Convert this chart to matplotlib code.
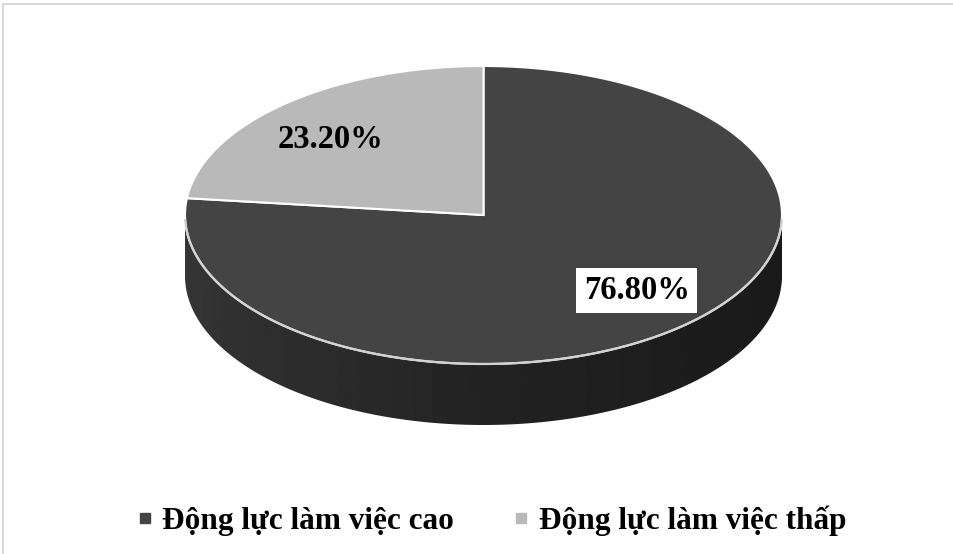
import numpy as np
import matplotlib.pyplot as plt
from matplotlib.patches import Polygon
from matplotlib.lines import Line2D

# dữ liệu
labels = ["Động lực làm việc cao", "Động lực làm việc thấp"]
values = [76.8, 23.2]
colors = ["#444444", "#b9b9b9"]

plt.rcParams["font.family"] = ["Liberation Serif", "DejaVu Serif"]

W, H = 954, 554
fig = plt.figure(figsize=(W / 100, H / 100), dpi=100)
ax = fig.add_axes([0, 0, 1, 1])

# hình elip của mặt trên và độ dày của bánh
cx, cy = 483.5, 215
a, b = 298.5, 149
depth = 61


def pt(t, dy=0.0):
    # t tính theo độ, chiều kim đồng hồ từ 12 giờ
    r = np.radians(t)
    return cx + a * np.sin(r), cy - b * np.cos(r) + dy


# khung viền (chỉ cạnh trên và cạnh trái)
ax.plot([3, W], [4, 4], color="#d9d9d9", lw=1.5)
ax.plot([3, 3], [4, H], color="#d9d9d9", lw=1.5)

# thành bên (nửa trước), tô chuyển màu theo chiều ngang
t = np.linspace(90, 270, 300)
xt, yt = pt(t)
xb, yb = pt(t[::-1], depth)
wall = Polygon(np.column_stack([np.r_[xt, xb], np.r_[yt, yb]]),
               closed=True, facecolor="none", edgecolor="none")
ax.add_patch(wall)
gx = np.linspace(cx - a, cx + a, 400)
shade = np.interp(gx, [cx - a, cx - a + 40, cx, cx + a], [0x36, 0x31, 0x23, 0x1a]) / 255
grad = np.tile(shade, (2, 1))
im = ax.imshow(grad, cmap="gray", vmin=0, vmax=1,
               extent=(cx - a, cx + a, cy + b + depth + 3, cy - 3),
               interpolation="bilinear", zorder=1)
im.set_clip_path(wall)

ax.set_aspect("auto")
ax.set_xlim(0, W)
ax.set_ylim(H, 0)
ax.axis("off")

# mặt trên các lát
total = sum(values)
start = 0.0
mids = []
for v, c in zip(values, colors):
    end = start + 360 * v / total
    ts = np.linspace(start, end, 200)
    x, y = pt(ts)
    poly = Polygon(np.column_stack([np.r_[cx, x], np.r_[cy, y]]), closed=True,
                   facecolor=c, edgecolor="white", lw=1.5, zorder=2)
    ax.add_patch(poly)
    mids.append((start + end) / 2)
    start = end

# viền sáng ở mép trước
th = np.linspace(92, 268, 300)
hx, hy = pt(th)
ax.plot(hx, hy, color="#d2d2d2", lw=1.6, zorder=3)

# nhãn phần trăm
for i, (v, m) in enumerate(zip(values, mids)):
    r = np.radians(m)
    lx = cx + 0.77 * a * np.sin(r)
    ly = cy - 0.68 * b * np.cos(r)
    box = dict(boxstyle="square,pad=0.22", fc="white", ec="none") if i == 0 else None
    ax.text(lx, ly, f"{v:.2f}%", ha="center", va="center", fontsize=23.5,
            fontweight="bold", color="black", bbox=box, zorder=4)

# chú thích
handles = [Line2D([], [], marker="s", ls="none", markersize=6.5, color=c) for c in colors]
fig.legend(handles, labels, loc="center", bbox_to_anchor=(0.513, 1 - 521 / H), ncol=2,
           frameon=False, prop={"size": 22.5, "weight": "bold"}, handletextpad=0.15,
           columnspacing=1.75, handlelength=0.8)

fig.savefig("out.png", dpi=100)
